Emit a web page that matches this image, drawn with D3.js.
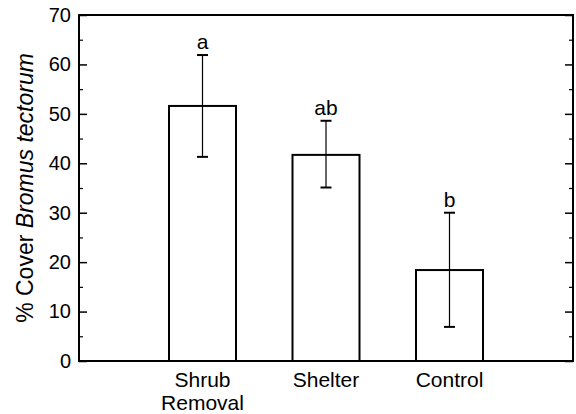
<!DOCTYPE html>
<html>
<head>
<meta charset="utf-8">
<script src="https://cdn.jsdelivr.net/npm/d3@7"></script>
<style>
  html, body { margin: 0; padding: 0; background: #fff; }
  text { font-family: "Liberation Sans", Arial, sans-serif; fill: #000; }
</style>
</head>
<body>
<svg id="chart" width="576" height="414"></svg>
<script>
const categories = ["Shrub\nRemoval", "Shelter", "Control"];
const means = [51.6, 41.7, 18.4];
const errLow = [41.3, 35.1, 6.9];
const errHigh = [61.9, 48.6, 30.0];
const letters = ["a", "ab", "b"];
const yTicks = [0, 10, 20, 30, 40, 50, 60, 70];
const yMinorTicks = [5, 15, 25, 35, 45, 55, 65];

(function () {
const svg = d3.select("#chart");
const pL = 79, pR = 573, pT = 15, pB = 361;

const x = d3.scaleLinear().domain([0, 4]).range([pL, pR]);
const y = d3.scaleLinear().domain([0, 70]).range([pB, pT]);
const barW = 67;

// bars
svg.selectAll("rect.bar").data(means).enter().append("rect")
  .attr("class", "bar")
  .attr("x", (d, i) => x(i + 1) - barW / 2)
  .attr("y", d => y(d))
  .attr("width", barW)
  .attr("height", d => y(0) - y(d))
  .attr("fill", "none").attr("stroke", "#000").attr("stroke-width", 2);

// error bars
means.forEach((m, i) => {
  const cx = x(i + 1);
  svg.append("line").attr("x1", cx).attr("x2", cx)
    .attr("y1", y(errLow[i])).attr("y2", y(errHigh[i]))
    .attr("stroke", "#000").attr("stroke-width", 1.2);
  [errLow[i], errHigh[i]].forEach(v => {
    svg.append("line").attr("x1", cx - 5.5).attr("x2", cx + 5.5)
      .attr("y1", y(v)).attr("y2", y(v))
      .attr("stroke", "#000").attr("stroke-width", 2);
  });
  svg.append("text").attr("x", cx).attr("y", y(errHigh[i]) - 6)
    .attr("text-anchor", "middle").attr("font-size", 21).text(letters[i]);
});

// frame
svg.append("rect").attr("x", pL).attr("y", pT)
  .attr("width", pR - pL).attr("height", pB - pT)
  .attr("fill", "none").attr("stroke", "#000").attr("stroke-width", 2);

// left axis (inward ticks)
const yAxisL = d3.axisLeft(y).tickValues(yTicks).tickSizeInner(-8).tickSizeOuter(0).tickPadding(8).tickFormat(d3.format("d"));
const gL = svg.append("g").attr("transform", `translate(${pL},0)`).call(yAxisL);
gL.select(".domain").remove();
gL.selectAll("line").attr("stroke-width", 1.5);
gL.selectAll("text").attr("font-size", 20).style("font-family", "Liberation Sans, Arial, sans-serif");
const gLm = svg.append("g").attr("transform", `translate(${pL},0)`)
  .call(d3.axisLeft(y).tickValues(yMinorTicks).tickSize(-4).tickFormat(""));
gLm.select(".domain").remove();
gLm.selectAll("line").attr("stroke-width", 1.2);

// right axis (inward ticks)
const gR = svg.append("g").attr("transform", `translate(${pR},0)`)
  .call(d3.axisRight(y).tickValues(yTicks).tickSize(-8).tickFormat(""));
gR.select(".domain").remove();
gR.selectAll("line").attr("stroke-width", 1.5);
const gRm = svg.append("g").attr("transform", `translate(${pR},0)`)
  .call(d3.axisRight(y).tickValues(yMinorTicks).tickSize(-4).tickFormat(""));
gRm.select(".domain").remove();
gRm.selectAll("line").attr("stroke-width", 1.2);

// category labels
categories.forEach((c, i) => {
  const t = svg.append("text").attr("x", x(i + 1)).attr("y", 387)
    .attr("text-anchor", "middle").attr("font-size", 21);
  c.split("\n").forEach((line, j) => {
    t.append("tspan").attr("x", x(i + 1)).attr("dy", j === 0 ? 0 : 23).text(line);
  });
});

// y title
const yt = svg.append("text")
  .attr("transform", `translate(33,${(pT + pB) / 2}) rotate(-90)`)
  .attr("text-anchor", "middle").attr("font-size", 23);
yt.append("tspan").text("% Cover ");
yt.append("tspan").attr("font-style", "italic").text("Bromus tectorum");
})();
</script>
</body>
</html>
